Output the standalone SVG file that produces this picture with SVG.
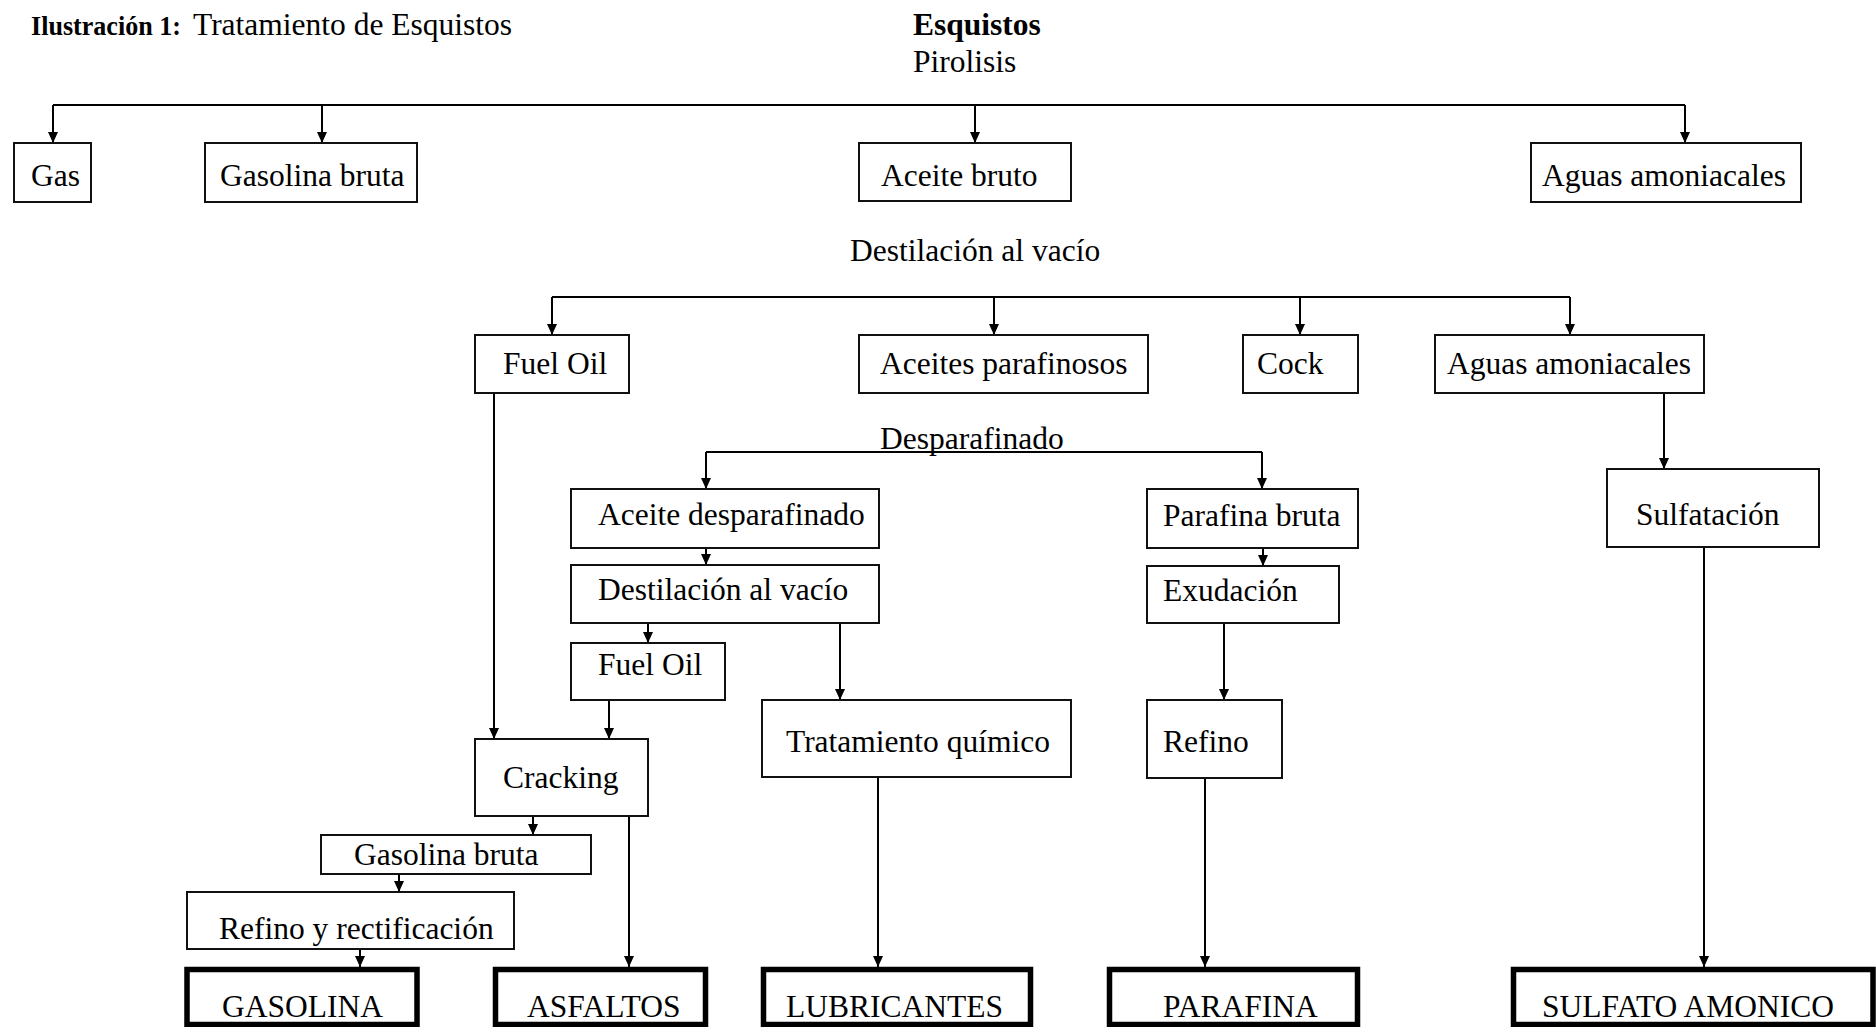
<svg xmlns="http://www.w3.org/2000/svg" width="1876" height="1027" viewBox="0 0 1876 1027">
  <style>
    text { font-family: "Liberation Serif", "Times New Roman", serif; font-size: 31.5px; fill: #000; }
    .bold { font-weight: bold; }
    .box { fill: #fff; stroke: #111; stroke-width: 2; }
    .final { fill: #fff; stroke: #000; stroke-width: 5.5; }
    .wire { fill: none; stroke: #000; stroke-width: 2; }
  </style>
  <defs>
    <marker id="tip" markerUnits="userSpaceOnUse" markerWidth="11" markerHeight="10" refX="11" refY="5" orient="auto" viewBox="0 0 11 10">
      <path d="M0,0 L11,5 L0,10 Z" fill="#000"/>
    </marker>
  </defs>

  <!-- caption and headings -->
  <g id="caption">
    <text x="31" y="35" class="bold" style="font-size:28px" textLength="150" lengthAdjust="spacingAndGlyphs">Ilustración 1:</text>
    <text x="193" y="35">Tratamiento de Esquistos</text>
  </g>
  <g id="heading">
    <text x="913" y="35" class="bold">Esquistos</text>
    <text x="913" y="72">Pirolisis</text>
  </g>
  <g id="label-destilacion">
    <text x="850" y="261">Destilación al vacío</text>
  </g>
  <g id="label-desparafinado">
    <text x="880" y="449">Desparafinado</text>
  </g>

  <!-- connectors -->
  <g id="connectors">
    <path class="wire" d="M53,105 H1685"/>
    <path class="wire" d="M53,105 V143" marker-end="url(#tip)"/>
    <path class="wire" d="M322,105 V143" marker-end="url(#tip)"/>
    <path class="wire" d="M975,105 V143" marker-end="url(#tip)"/>
    <path class="wire" d="M1685,105 V143" marker-end="url(#tip)"/>

    <path class="wire" d="M552,297 H1570"/>
    <path class="wire" d="M552,297 V335" marker-end="url(#tip)"/>
    <path class="wire" d="M994,297 V335" marker-end="url(#tip)"/>
    <path class="wire" d="M1300,297 V335" marker-end="url(#tip)"/>
    <path class="wire" d="M1570,297 V335" marker-end="url(#tip)"/>

    <path class="wire" d="M706,452 H1262"/>
    <path class="wire" d="M706,452 V489" marker-end="url(#tip)"/>
    <path class="wire" d="M1262,452 V489" marker-end="url(#tip)"/>

    <path class="wire" d="M494,390 V739" marker-end="url(#tip)"/>
    <path class="wire" d="M1664,390 V469" marker-end="url(#tip)"/>

    <path class="wire" d="M706,548 V565" marker-end="url(#tip)"/>
    <path class="wire" d="M648,623 V643" marker-end="url(#tip)"/>
    <path class="wire" d="M840,623 V700" marker-end="url(#tip)"/>
    <path class="wire" d="M609,700 V739" marker-end="url(#tip)"/>
    <path class="wire" d="M533,816 V835" marker-end="url(#tip)"/>
    <path class="wire" d="M399,874 V892" marker-end="url(#tip)"/>
    <path class="wire" d="M360,949 V967" marker-end="url(#tip)"/>
    <path class="wire" d="M629,816 V967" marker-end="url(#tip)"/>
    <path class="wire" d="M878,777 V967" marker-end="url(#tip)"/>

    <path class="wire" d="M1263,548 V566" marker-end="url(#tip)"/>
    <path class="wire" d="M1224,623 V700" marker-end="url(#tip)"/>
    <path class="wire" d="M1205,778 V967" marker-end="url(#tip)"/>
    <path class="wire" d="M1704,547 V967" marker-end="url(#tip)"/>
  </g>

  <!-- first split -->
  <g id="gas"><rect class="box" x="14" y="143" width="77" height="59"/><text x="31" y="186">Gas</text></g>
  <g id="gasolina-bruta"><rect class="box" x="205" y="143" width="212" height="59"/><text x="220" y="186">Gasolina bruta</text></g>
  <g id="aceite-bruto"><rect class="box" x="859" y="143" width="212" height="58"/><text x="881" y="186">Aceite bruto</text></g>
  <g id="aguas-amoniacales-1"><rect class="box" x="1531" y="143" width="270" height="59"/><text x="1542" y="186">Aguas amoniacales</text></g>

  <!-- vacuum distillation products -->
  <g id="fuel-oil-1"><rect class="box" x="475" y="335" width="154" height="58"/><text x="503" y="374">Fuel Oil</text></g>
  <g id="aceites-parafinosos"><rect class="box" x="859" y="335" width="289" height="58"/><text x="880" y="374">Aceites parafinosos</text></g>
  <g id="cock"><rect class="box" x="1243" y="335" width="115" height="58"/><text x="1257" y="374">Cock</text></g>
  <g id="aguas-amoniacales-2"><rect class="box" x="1435" y="335" width="269" height="58"/><text x="1447" y="374">Aguas amoniacales</text></g>

  <!-- dewaxed oil branch -->
  <g id="aceite-desparafinado"><rect class="box" x="571" y="489" width="308" height="59"/><text x="598" y="525">Aceite desparafinado</text></g>
  <g id="destilacion-vacio-2"><rect class="box" x="571" y="565" width="308" height="58"/><text x="598" y="600">Destilación al vacío</text></g>
  <g id="fuel-oil-2"><rect class="box" x="571" y="643" width="154" height="57"/><text x="598" y="675">Fuel Oil</text></g>
  <g id="tratamiento-quimico"><rect class="box" x="762" y="700" width="309" height="77"/><text x="786" y="752">Tratamiento químico</text></g>
  <g id="cracking"><rect class="box" x="475" y="739" width="173" height="77"/><text x="503" y="788">Cracking</text></g>
  <g id="gasolina-bruta-2"><rect class="box" x="321" y="835" width="270" height="39"/><text x="354" y="865">Gasolina bruta</text></g>
  <g id="refino-rectificacion"><rect class="box" x="187" y="892" width="327" height="57"/><text x="219" y="939">Refino y rectificación</text></g>

  <!-- paraffin branch -->
  <g id="parafina-bruta"><rect class="box" x="1147" y="489" width="211" height="59"/><text x="1163" y="526">Parafina bruta</text></g>
  <g id="exudacion"><rect class="box" x="1147" y="566" width="192" height="57"/><text x="1163" y="601">Exudación</text></g>
  <g id="refino"><rect class="box" x="1147" y="700" width="135" height="78"/><text x="1163" y="752">Refino</text></g>

  <!-- ammonia water branch -->
  <g id="sulfatacion"><rect class="box" x="1607" y="469" width="212" height="78"/><text x="1636" y="525">Sulfatación</text></g>

  <!-- end products -->
  <g id="gasolina"><rect class="final" x="187" y="969.5" width="230" height="55"/><text x="222" y="1017">GASOLINA</text></g>
  <g id="asfaltos"><rect class="final" x="495.5" y="969.5" width="210" height="55"/><text x="527" y="1017">ASFALTOS</text></g>
  <g id="lubricantes"><rect class="final" x="763.5" y="969.5" width="267" height="55"/><text x="786" y="1017">LUBRICANTES</text></g>
  <g id="parafina"><rect class="final" x="1109.5" y="969.5" width="248" height="55"/><text x="1163" y="1017">PARAFINA</text></g>
  <g id="sulfato-amonico"><rect class="final" x="1513.5" y="969.5" width="359.5" height="55"/><text x="1542" y="1017">SULFATO AMONICO</text></g>
</svg>
